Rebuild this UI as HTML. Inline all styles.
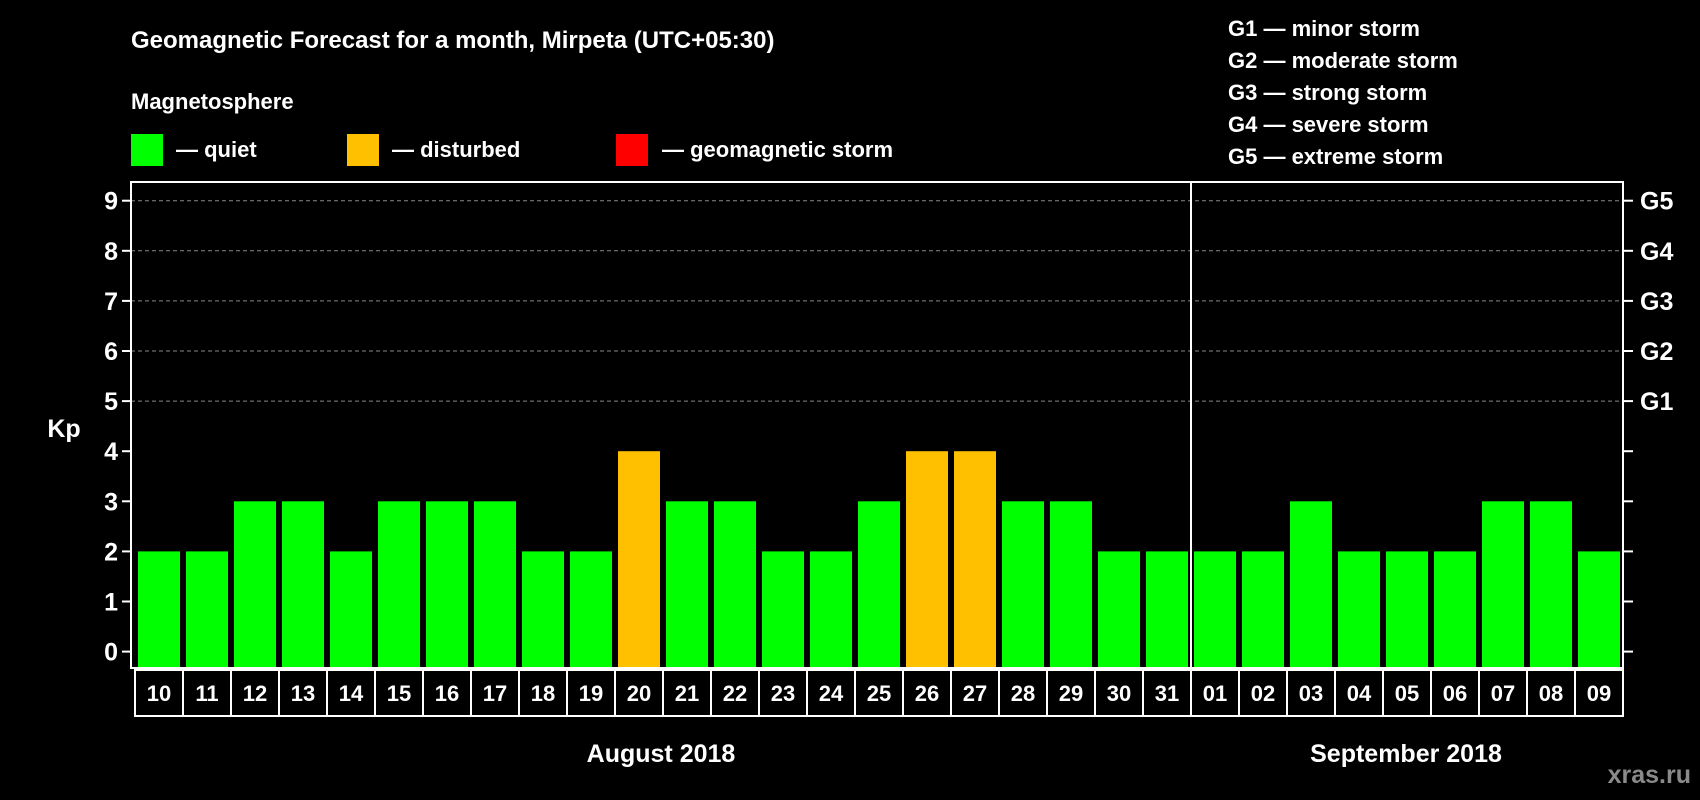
<!DOCTYPE html>
<html><head><meta charset="utf-8"><style>
html,body{margin:0;padding:0;background:#000;}
svg{display:block;font-family:"Liberation Sans",Arial,sans-serif;font-weight:bold;}
</style></head><body>
<svg id="chart" width="1700" height="800" viewBox="0 0 1700 800" xmlns="http://www.w3.org/2000/svg">
<rect x="0" y="0" width="1700" height="800" fill="#000"/>
<text x="131" y="48" fill="#fff" font-size="24">Geomagnetic Forecast for a month, Mirpeta (UTC+05:30)</text>
<text x="131" y="109" fill="#fff" font-size="22">Magnetosphere</text>
<g>
<rect x="131" y="134" width="32" height="32" fill="#00ff00"/>
<text x="176" y="157" fill="#fff" font-size="22">— quiet</text>
<rect x="347" y="134" width="32" height="32" fill="#ffc000"/>
<text x="392" y="157" fill="#fff" font-size="22">— disturbed</text>
<rect x="616" y="134" width="32" height="32" fill="#ff0000"/>
<text x="662" y="157" fill="#fff" font-size="22">— geomagnetic storm</text>
</g>
<g fill="#fff" font-size="22">
<text x="1228" y="36">G1 — minor storm</text>
<text x="1228" y="68">G2 — moderate storm</text>
<text x="1228" y="100">G3 — strong storm</text>
<text x="1228" y="132">G4 — severe storm</text>
<text x="1228" y="164">G5 — extreme storm</text>
</g>
<text x="64" y="437" fill="#fff" font-size="25" text-anchor="middle">Kp</text>
<g id="plot"></g>
<text x="661" y="762" fill="#fff" font-size="25" text-anchor="middle">August 2018</text>
<text x="1406" y="762" fill="#fff" font-size="25" text-anchor="middle">September 2018</text>
<text x="1691" y="783" fill="#8a8a8a" font-size="25" text-anchor="end">xras.ru</text>
</svg>
<script>
const days = ["10","11","12","13","14","15","16","17","18","19","20","21","22","23","24","25","26","27","28","29","30","31","01","02","03","04","05","06","07","08","09"];
const kpValues = [2,2,3,3,2,3,3,3,2,2,4,3,3,2,2,3,4,4,3,3,2,2,2,2,3,2,2,2,3,3,2];
const yTicks = [0,1,2,3,4,5,6,7,8,9];
const gLabels = ["G1","G2","G3","G4","G5"];
const monthBreakIndex = 22;

const NS = "http://www.w3.org/2000/svg";
const g = document.getElementById("plot");
const L = 131, R = 1623, T = 182, B = 668;
const cellX0 = 135, cellW = 48;
const y0 = 651.6, unit = 50.1;
function yScale(v){ return y0 - v*unit; }
function xScale(i){ return cellX0 + i*cellW; }
function mk(tag, attrs){ const e=document.createElementNS(NS,tag); for(const k in attrs) e.setAttribute(k,attrs[k]); g.appendChild(e); return e; }

yTicks.forEach(function(t){
  const y = yScale(t);
  if (t >= 5) {
    const gl = mk("line",{x1:L,x2:R,y1:y,y2:y,stroke:"#888","stroke-width":1,"stroke-dasharray":"4,3"});
    
    
  }
  const tl = mk("line",{x1:L-9,x2:L,y1:y,y2:y,stroke:"#fff","stroke-width":2});
  
  
  const tr = mk("line",{x1:R,x2:R+10,y1:y,y2:y,stroke:"#fff","stroke-width":2});
  
  
  const lbl = mk("text",{x:L-13,y:y+9,fill:"#fff","font-size":25,"text-anchor":"end"});
  lbl.textContent = t;
  
  
});
gLabels.forEach(function(lab, i){
  const y = yScale(5 + i);
  const t = mk("text",{x:R+17,y:y+9,fill:"#fff","font-size":25});
  t.textContent = lab;
  
  
});

kpValues.forEach(function(v, i){
  const y = yScale(v);
  const color = v >= 5 ? "#ff0000" : (v >= 4 ? "#ffc000" : "#00ff00");
  const b = mk("rect",{x:xScale(i)+3,y:y,width:42,height:B-1-y,fill:color});
  
  
  const c = mk("rect",{x:xScale(i),y:B+2,width:cellW,height:46,fill:"none",stroke:"#fff","stroke-width":2});
  
  
  const t = mk("text",{x:xScale(i)+cellW/2,y:B+33,fill:"#fff","font-size":22,"text-anchor":"middle"});
  t.textContent = days[i];
  
  
});

const frame = mk("rect",{x:L,y:T,width:R-L,height:B-T,fill:"none",stroke:"#fff","stroke-width":2});


const div = mk("line",{x1:xScale(monthBreakIndex),x2:xScale(monthBreakIndex),y1:T,y2:B,stroke:"#fff","stroke-width":2});


</script>
</body></html>
